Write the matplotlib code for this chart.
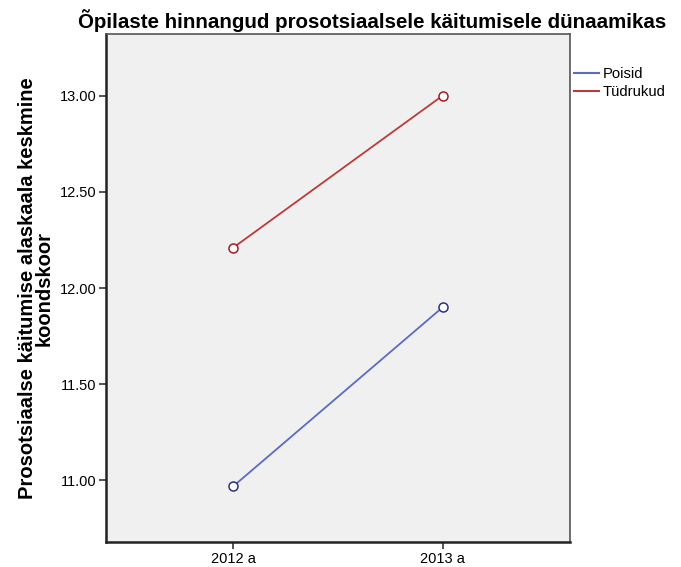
import matplotlib
matplotlib.use("Agg")
import matplotlib.pyplot as plt
from matplotlib.lines import Line2D

# andmed
aastad = ["2012 a", "2013 a"]
poisid = [10.97, 11.90]
tudrukud = [12.21, 13.00]
y_ticks = [11.0, 11.5, 12.0, 12.5, 13.0]

sinine = "#5a6cc0"
punane = "#bb3a3a"

plt.rcParams["font.family"] = ["Liberation Sans", "DejaVu Sans"]

fig = plt.figure(figsize=(6.81, 5.67), dpi=100)
ax = fig.add_axes([0.1557, 0.0441, 0.6813, 0.8959])
ax.set_facecolor("#f0f0f0")

x = list(range(len(aastad)))
ax.plot(x, poisid, color=sinine, lw=1.3, marker="o", ms=6.5,
        mfc="white", mec="#2e3278", mew=1.1)
ax.plot(x, tudrukud, color=punane, lw=1.3, marker="o", ms=6.5,
        mfc="white", mec="#a01e23", mew=1.1)

ax.set_xlim(-0.608, 1.608)
ax.set_ylim(10.68, 13.32)
ax.set_xticks(x)
ax.set_xticklabels(aastad)
ax.set_yticks(y_ticks)
ax.set_yticklabels([f"{v:.2f}" for v in y_ticks])
ax.tick_params(labelsize=10.5, length=5, width=1.2, color="#333333", pad=2)

for side in ["left", "bottom"]:
    ax.spines[side].set_linewidth(1.8)
    ax.spines[side].set_color("#222222")
for side in ["top", "right"]:
    ax.spines[side].set_linewidth(1.2)
    ax.spines[side].set_color("#555555")

ax.set_ylabel("Prosotsiaalse käitumise alaskaala keskmine\nkoondskoor",
              fontsize=14.5, fontweight="bold", linespacing=0.85, labelpad=4)

fig.text(372 / 681, 1 - 21 / 567, "Õpilaste hinnangud prosotsiaalsele käitumisele dünaamikas",
         ha="center", va="center", fontsize=14.8, fontweight="bold")

kasitsejad = [Line2D([], [], color=sinine, lw=1.5),
              Line2D([], [], color=punane, lw=1.5)]
fig.legend(kasitsejad, ["Poisid", "Tüdrukud"], loc="upper left",
           bbox_to_anchor=(0.843, 0.882), frameon=False,
           fontsize=10.7, handlelength=1.7, handletextpad=0.2, labelspacing=0.3,
           borderaxespad=0, borderpad=0)

fig.savefig("out.png", dpi=100)
